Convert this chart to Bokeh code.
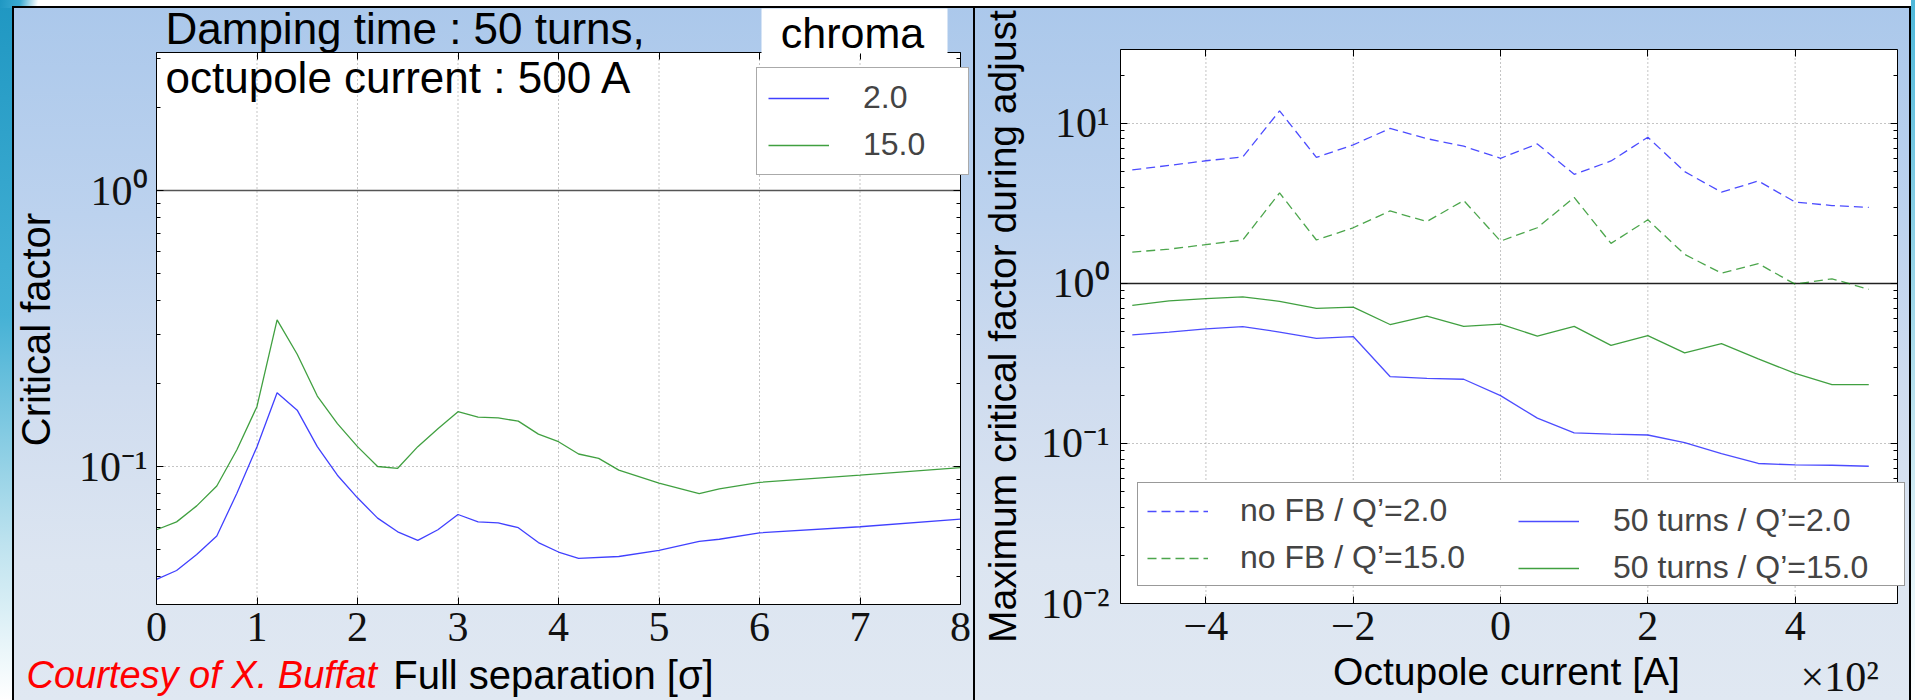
import math
from bokeh.plotting import figure
from bokeh.models import (FixedTicker, CustomJSTickFormatter, Label, Legend,
                          LegendItem, Range1d, BoxAnnotation, LinearAxis, LogAxis)
from bokeh.layouts import row
from bokeh.embed import file_html
from bokeh.resources import INLINE

# ---------------- data: left panel (critical factor vs separation) ----------------
sep_chroma2 = [0.0, 0.2, 0.4, 0.6, 0.8, 1.0, 1.2, 1.4, 1.6, 1.8, 2.0, 2.2, 2.4, 2.6, 2.8,
               3.0, 3.2, 3.4, 3.6, 3.8, 4.0, 4.2, 4.6, 5.0, 5.4, 5.6, 6.0, 7.0, 8.0]
cf_chroma2 = [0.039, 0.042, 0.048, 0.056, 0.080, 0.118, 0.185, 0.160, 0.118, 0.093, 0.077,
              0.065, 0.058, 0.054, 0.059, 0.067, 0.063, 0.0625, 0.060, 0.053, 0.049, 0.0465,
              0.0472, 0.0497, 0.0535, 0.0545, 0.0575, 0.0605, 0.0645]
sep_chroma15 = [0.0, 0.2, 0.4, 0.6, 0.8, 1.0, 1.2, 1.4, 1.6, 1.8, 2.0, 2.2, 2.4, 2.6, 2.8,
                3.0, 3.2, 3.4, 3.6, 3.8, 4.0, 4.2, 4.4, 4.6, 5.0, 5.4, 5.6, 6.0, 7.0, 8.0]
cf_chroma15 = [0.059, 0.063, 0.072, 0.085, 0.115, 0.165, 0.340, 0.255, 0.180, 0.143, 0.118,
               0.100, 0.0985, 0.118, 0.137, 0.158, 0.151, 0.150, 0.146, 0.131, 0.123, 0.111,
               0.107, 0.097, 0.087, 0.0798, 0.083, 0.0876, 0.093, 0.099]

# ---------------- data: right panel (max critical factor vs octupole current) ----------------
octupole_A = [-500, -450, -400, -350, -300, -250, -200, -150, -100, -50, 0,
              50, 100, 150, 200, 250, 300, 350, 400, 450, 500]
nofb_q2 = [5.13, 5.47, 5.85, 6.18, 12.0, 6.14, 7.35, 9.31, 8.04, 7.21, 6.06,
           7.45, 4.81, 5.83, 8.20, 5.00, 3.72, 4.37, 3.23, 3.07, 2.99]
nofb_q15 = [1.57, 1.64, 1.75, 1.87, 3.68, 1.87, 2.23, 2.84, 2.44, 3.30, 1.84,
            2.23, 3.45, 1.78, 2.50, 1.52, 1.16, 1.33, 0.99, 1.07, 0.92]
fb50_q2 = [0.478, 0.497, 0.520, 0.537, 0.497, 0.454, 0.466, 0.262, 0.255, 0.252, 0.199,
           0.144, 0.1166, 0.1144, 0.113, 0.1013, 0.0863, 0.0750, 0.0735, 0.0731, 0.0721]
fb50_q15 = [0.730, 0.779, 0.804, 0.825, 0.774, 0.698, 0.711, 0.554, 0.626, 0.540, 0.558,
            0.469, 0.540, 0.410, 0.472, 0.368, 0.421, 0.338, 0.274, 0.233, 0.233]

# ---------------- axes limits / ticks ----------------
left_xlim = (0.0, 8.0)
left_ylim = (10 ** -1.5, 10 ** 0.5)
right_xlim = (-516.0, 539.0)
right_ylim = (0.01, 29.0)
left_xticks = [0, 1, 2, 3, 4, 5, 6, 7, 8]
left_yticks = [0.1, 1.0]
right_xticks = [-400, -200, 0, 200, 400]
right_yticks = [0.01, 0.1, 1.0, 10.0]
decades = [0.01, 0.1, 1.0, 10.0]
minor_log = [m * d for d in decades for m in range(2, 10)]
threshold = 1.0

BLUE = "#0000ff"
GREEN = "#008000"
SANS = "Liberation Sans"
SERIF = "Liberation Serif"
H = 700
WL, WR = 974, 941
# plot-area placement inside each canvas (pixels)
LBOX = dict(left=156, right=960, top=52, bottom=604)
RBOX = dict(left=146, right=923, top=49, bottom=603)
MID = 0.347  # baseline offset of a "middle"-anchored text, in em

PAGE_BG = ", ".join([
    "linear-gradient(#000,#000) 12px 6px / 1899px 2px no-repeat",
    "linear-gradient(#000,#000) 12px 6px / 2px 694px no-repeat",
    "linear-gradient(#000,#000) 973px 6px / 2px 694px no-repeat",
    "linear-gradient(#000,#000) 1909px 6px / 2px 694px no-repeat",
    "linear-gradient(180deg, #abc8eb 0%, #bcd2ee 30%, #cfdcef 55%, #dce5f1 80%, #e0e8f2 100%) 12px 6px / 1899px 694px no-repeat",
    "linear-gradient(100deg, #1f97c2 0px, #3aaad2 20px, rgba(255,255,255,0) 38px) 0 0 / 40px 8px no-repeat",
    "linear-gradient(180deg, #1f97c2 0%, #45b1d5 45%, #bfe3ef 78%, #ffffff 100%) 0 0 / 12px 700px no-repeat",
    "linear-gradient(180deg, #4fb8da 0%, #bfe3ef 60%, #ffffff 100%) 1911px 0 / 4px 700px no-repeat",
    "#ffffff",
])

log_fmt = CustomJSTickFormatter(code="""
    const sup = {"-": "\u207B", "0": "\u2070", "1": "\u00B9", "2": "\u00B2", "3": "\u00B3",
                 "4": "\u2074", "5": "\u2075", "6": "\u2076", "7": "\u2077", "8": "\u2078", "9": "\u2079"};
    const e = Math.round(Math.log10(tick));
    return "10" + String(e).split("").map(c => sup[c]).join("");
""")
hundreds_fmt = CustomJSTickFormatter(code="""
    const v = Math.round(tick / 100);
    return v < 0 ? "\u2212" + String(-v) : String(v);
""")


def lin_range(lim, px_lo, px_hi, size):
    k = (lim[1] - lim[0]) / (px_hi - px_lo)
    return Range1d(lim[0] - px_lo * k, lim[1] + (size - px_hi) * k)


def log_range(lim, px_top, px_bottom, size):
    a, b = math.log10(lim[0]), math.log10(lim[1])
    k = (b - a) / (px_bottom - px_top)
    return Range1d(10 ** (a - (size - px_bottom) * k), 10 ** (b + px_top * k))


def style_axis(ax):
    ax.major_label_text_font = SERIF
    ax.major_label_text_font_size = "42px"
    ax.major_label_text_color = "#111111"
    ax.major_tick_in = 7
    ax.major_tick_out = 0
    ax.minor_tick_in = 4
    ax.minor_tick_out = 0
    ax.axis_line_color = "black"
    ax.major_tick_line_color = "black"
    ax.minor_tick_line_color = "black"


def make_panel(width, box, xlim, ylim, xticker, yticker):
    p = figure(width=width, height=H,
               x_range=lin_range(xlim, box["left"], box["right"], width),
               y_range=log_range(ylim, box["top"], box["bottom"], H),
               y_axis_type="log", output_backend="svg", toolbar_location=None,
               min_border=0)
    p.grid.visible = False
    p.outline_line_color = None
    p.background_fill_alpha = 0
    p.border_fill_alpha = 0
    # white plot area with black frame
    p.add_layout(BoxAnnotation(left=xlim[0], right=xlim[1], bottom=ylim[0], top=ylim[1],
                               fill_color="white", fill_alpha=1, line_color="black",
                               line_width=1, level="underlay"))
    xa = p.below[0]
    ya = p.left[0]
    for ax in (xa, ya):
        style_axis(ax)
    xa.ticker = xticker
    ya.ticker = yticker
    xa.fixed_location = ylim[0]
    ya.fixed_location = xlim[0]
    xa.bounds = xlim
    ya.bounds = ylim
    xa.major_label_standoff = 8
    ya.formatter = log_fmt
    # tick marks on the top and right spines (no labels)
    top_ax = LinearAxis(ticker=xticker, formatter=CustomJSTickFormatter(code="return '';"),
                        fixed_location=ylim[1], bounds=xlim)
    right_ax = LogAxis(ticker=yticker, formatter=CustomJSTickFormatter(code="return '';"),
                       fixed_location=xlim[1], bounds=ylim)
    for ax in (top_ax, right_ax):
        style_axis(ax)
    p.add_layout(top_ax, "above")
    p.add_layout(right_ax, "right")
    return p, xa, ya


def grid_lines(p, xticks, yticks, xlim, ylim):
    vx = [t for t in xticks if xlim[0] < t < xlim[1]]
    hy = [t for t in yticks if ylim[0] < t < ylim[1] and t != threshold]
    p.segment(x0=vx, y0=[ylim[0]] * len(vx), x1=vx, y1=[ylim[1]] * len(vx),
              line_color="#8a8a8a", line_dash="1 3", line_width=1)
    p.segment(x0=[xlim[0]] * len(hy), y0=hy, x1=[xlim[1]] * len(hy), y1=hy,
              line_color="#8a8a8a", line_dash="1 3", line_width=1)


def txt(x, baseline, text, size, rotated=False, **kw):
    """x, baseline: canvas pixels from the top-left; size in px."""
    off = MID * size
    if rotated:
        sx, sy = baseline - off, H - x
        kw.setdefault("angle", math.pi / 2)
    else:
        sx, sy = x, H - baseline + off
    opts = dict(x=sx, y=sy, x_units="screen", y_units="screen", text=text, text_font=SANS,
                text_font_size=f"{size}px", text_baseline="middle", text_color="black")
    opts.update(kw)
    return Label(**opts)


# ================= left panel =================
tkLx = FixedTicker(ticks=left_xticks, minor_ticks=[])
tkLy = FixedTicker(ticks=left_yticks,
                   minor_ticks=[m for m in minor_log if left_ylim[0] <= m <= left_ylim[1]])
pL, xaL, yaL = make_panel(WL, LBOX, left_xlim, left_ylim, tkLx, tkLy)
yaL.major_label_standoff = 9
grid_lines(pL, left_xticks, left_yticks, left_xlim, left_ylim)
pL.segment(x0=[left_xlim[0]], y0=[threshold], x1=[left_xlim[1]], y1=[threshold],
           line_color="#555555", line_width=1.3)

rL2 = pL.line(sep_chroma2, cf_chroma2, line_color=BLUE, line_alpha=0.75, line_width=1.3)
rL15 = pL.line(sep_chroma15, cf_chroma15, line_color=GREEN, line_alpha=0.75, line_width=1.3)

legL = Legend(items=[LegendItem(label="2.0", renderers=[rL2]),
                     LegendItem(label="15.0", renderers=[rL15])],
              location=(756, H - 175), label_text_font=SANS, label_text_font_size="32px",
              glyph_width=61, glyph_height=36, label_standoff=34, label_width=94,
              padding=11, spacing=10, margin=0,
              border_line_color="#555555", border_line_width=1,
              background_fill_color="white", background_fill_alpha=1)
pL.add_layout(legL)


def lx(px):  # left canvas pixel -> data x
    return left_xlim[0] + (px - LBOX["left"]) * (left_xlim[1] - left_xlim[0]) / (LBOX["right"] - LBOX["left"])


def ly(px):  # left canvas pixel (from top) -> data y
    a, b = math.log10(left_ylim[0]), math.log10(left_ylim[1])
    return 10 ** (b - (px - LBOX["top"]) * (b - a) / (LBOX["bottom"] - LBOX["top"]))


pL.add_layout(BoxAnnotation(left=lx(761), right=lx(947), top=ly(8), bottom=ly(53),
                            fill_color="white", fill_alpha=1, line_color=None))
pL.add_layout(txt(852, 47, "chroma", 43, text_align="center"))
pL.add_layout(txt(165, 43, "Damping time : 50 turns,", 44))
pL.add_layout(txt(165, 92, "octupole current : 500 A", 44))
pL.add_layout(txt(329, 49, "Critical factor", 40, rotated=True, text_align="center"))
pL.add_layout(txt(26, 688, "Courtesy of X. Buffat", 38, text_font_style="italic",
                  text_color="#ff0000"))
pL.add_layout(txt(553, 688, "Full separation [\u03c3]", 40, text_align="center"))

# ================= right panel =================
tkRx = FixedTicker(ticks=right_xticks, minor_ticks=[])
tkRy = FixedTicker(ticks=right_yticks,
                   minor_ticks=[m for m in minor_log if right_ylim[0] <= m <= right_ylim[1]])
pR, xaR, yaR = make_panel(WR, RBOX, right_xlim, right_ylim, tkRx, tkRy)
xaR.formatter = hundreds_fmt
yaR.major_label_standoff = 11
grid_lines(pR, right_xticks, right_yticks, right_xlim, right_ylim)
pR.segment(x0=[right_xlim[0]], y0=[threshold], x1=[right_xlim[1]], y1=[threshold],
           line_color="#222222", line_width=1.3)

r_nofb2 = pR.line(octupole_A, nofb_q2, line_color=BLUE, line_alpha=0.7, line_width=1.3, line_dash="9 5")
r_nofb15 = pR.line(octupole_A, nofb_q15, line_color=GREEN, line_alpha=0.7, line_width=1.3, line_dash="9 5")
r_fb2 = pR.line(octupole_A, fb50_q2, line_color=BLUE, line_alpha=0.7, line_width=1.3)
r_fb15 = pR.line(octupole_A, fb50_q15, line_color=GREEN, line_alpha=0.75, line_width=1.3)

leg_common = dict(label_text_font=SANS, label_text_font_size="32px",
                  glyph_height=36, padding=9, spacing=10, margin=0, glyph_width=61)
legA = Legend(items=[LegendItem(label="no FB / Q\u2019=2.0", renderers=[r_nofb2]),
                     LegendItem(label="no FB / Q\u2019=15.0", renderers=[r_nofb15])],
              location=(1137 - WL, H - 586), label_standoff=32, label_width=655,
              border_line_color="#333333", border_line_width=1.5,
              background_fill_color="white", background_fill_alpha=1, **leg_common)
legB = Legend(items=[LegendItem(label="50 turns / Q\u2019=2.0", renderers=[r_fb2]),
                     LegendItem(label="50 turns / Q\u2019=15.0", renderers=[r_fb15])],
              location=(1533 - 15 - WL, H - 586), label_standoff=34,
              border_line_color=None, background_fill_alpha=0, **leg_common)
pR.add_layout(legA)
pR.add_layout(legB)

pR.add_layout(txt(326, 1016 - WL, "Maximum critical factor during adjust", 39, rotated=True,
                  text_align="center"))
pR.add_layout(txt(1506 - WL, 685, "Octupole current [A]", 39, text_align="center"))
pR.add_layout(txt(1800 - WL, 691, "\u00d710\u00b2", 42, text_font=SERIF, text_color="#111111"))

layout = row(pL, pR, spacing=0, styles={"background": PAGE_BG})
open("out.html", "w").write(file_html(layout, INLINE))
